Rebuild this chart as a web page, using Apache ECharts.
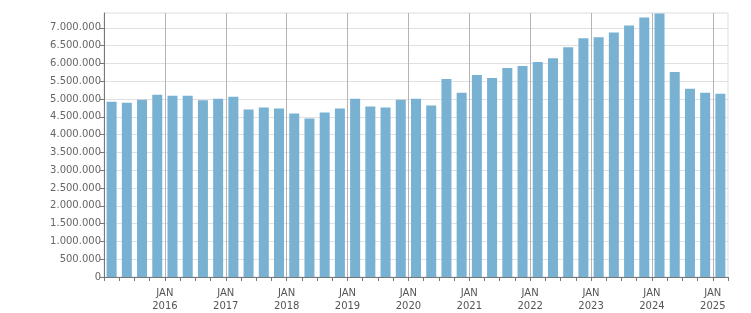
<!DOCTYPE html>
<html><head><meta charset="utf-8">
<script src="https://cdn.jsdelivr.net/npm/echarts@6/dist/echarts.min.js"></script>
<style>html,body{margin:0;padding:0;background:#fff}#c{width:751px;height:313px}</style>
</head><body><div id="c"></div>
<script>
// Quarterly values, 2015 Q1 .. 2025 Q1
const quarters = ['2015 Q1','2015 Q2','2015 Q3','2015 Q4','2016 Q1','2016 Q2','2016 Q3','2016 Q4','2017 Q1','2017 Q2','2017 Q3','2017 Q4','2018 Q1','2018 Q2','2018 Q3','2018 Q4','2019 Q1','2019 Q2','2019 Q3','2019 Q4','2020 Q1','2020 Q2','2020 Q3','2020 Q4','2021 Q1','2021 Q2','2021 Q3','2021 Q4','2022 Q1','2022 Q2','2022 Q3','2022 Q4','2023 Q1','2023 Q2','2023 Q3','2023 Q4','2024 Q1','2024 Q2','2024 Q3','2024 Q4','2025 Q1'];
const values = [4925000,4897000,4980000,5119000,5092000,5092000,4962000,5008000,5064000,4703000,4758000,4731000,4592000,4453000,4619000,4731000,5008000,4786000,4758000,4980000,5008000,4814000,5564000,5175000,5675000,5592000,5869000,5925000,6036000,6147000,6453000,6703000,6731000,6869000,7064000,7286000,7400000,5758000,5286000,5175000,5147000];
const firstYear = 2015;
const yearLabels = ['2016','2017','2018','2019','2020','2021','2022','2023','2024','2025'];
const yTicks = [0,500000,1000000,1500000,2000000,2500000,3000000,3500000,4000000,4500000,5000000,5500000,6000000,6500000,7000000];
const yMax = 7415000;
const yStep = 500000;

const font = 'DejaVu Sans';
const fmt = v => String(v).replace(/\B(?=(\d{3})+(?!\d))/g, '.');
const data = values.map((v, i) => [i + 0.5, v]);
const nQ = quarters.length;

const chart = echarts.init(document.getElementById('c'), null, {renderer: 'canvas'});
chart.setOption({
  animation: false,
  grid: {left: 104, top: 13, width: 624, height: 267, show: true, borderColor: '#dddddd', borderWidth: 1, backgroundColor: 'transparent'},
  xAxis: [{
    type: 'value', min: 0, max: nQ, interval: 4,
    axisLine: {show: true, lineStyle: {color: '#777', width: 1}},
    axisTick: {show: false},
    axisLabel: {
      margin: 10, color: '#555', fontFamily: font, fontSize: 10, lineHeight: 13,
      formatter: v => (v > 0 && v < nQ && v % 4 === 0) ? 'JAN\n' + yearLabels[v / 4 - 1] : ''
    },
    splitLine: {show: true, showMinLine: false, showMaxLine: false, lineStyle: {color: '#b4b4b4', width: 1}}
  }, {
    type: 'value', min: 0, max: nQ, interval: 1, position: 'bottom',
    axisLine: {show: false},
    axisTick: {show: true, length: 4, lineStyle: {color: '#777'}},
    axisLabel: {show: false},
    splitLine: {show: false}
  }],
  yAxis: {
    type: 'value', min: 0, max: yMax, interval: yStep,
    axisLine: {show: true, lineStyle: {color: '#777', width: 1}},
    axisTick: {show: true, length: 4, lineStyle: {color: '#777'}, customValues: yTicks},
    axisLabel: {
      margin: 3, color: '#666', fontFamily: font, fontSize: 10, customValues: yTicks,
      formatter: v => fmt(v)
    },
    splitLine: {show: true, lineStyle: {color: '#e0e0e0', width: 1}}
  },
  series: [{
    type: 'bar', xAxisIndex: 0, barWidth: 10,
    itemStyle: {color: '#78b1d2'},
    data: data
  }]
});
</script></body></html>
